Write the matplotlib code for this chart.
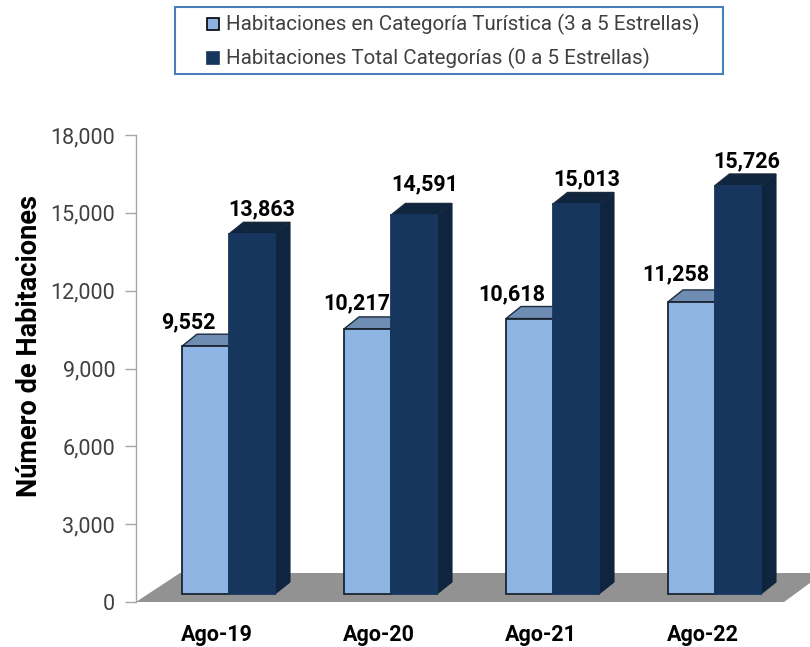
import matplotlib
matplotlib.use("Agg")
import matplotlib.pyplot as plt
from matplotlib.patches import Polygon, Rectangle

plt.rcParams["font.family"] = ["Roboto", "DejaVu Sans"]

# Data
categories = ["Ago-19", "Ago-20", "Ago-21", "Ago-22"]
turistica = [9552, 10217, 10618, 11258]
total = [13863, 14591, 15013, 15726]
yticks = [0, 3000, 6000, 9000, 12000, 15000, 18000]
legend_labels = ["Habitaciones en Categoría Turística (3 a 5 Estrellas)",
                 "Habitaciones Total Categorías (0 a 5 Estrellas)"]

# Small pixel nudges for the value labels
label_dx_light = [6, 13, 6, 8]
label_dy_light = [24, 26, 24, 28]
label_dx_dark = [34, 35, 35, 33]
label_dy_dark = [25, 31, 25, 25]

W, H = 810, 647
fig = plt.figure(figsize=(W / 100, H / 100), dpi=100)
ax = fig.add_axes([136 / W, (H - 602) / H, 648 / W, 467 / H])
ax.set_xlim(-0.5, 3.5)
ax.set_ylim(0, 18000)

# pixel to data scale
px = 1 / 162
py = 18000 / 467


def bar3d(x0, value, width, front, top, side, edge, z):
    # x0 in data units, width in px, bar sits 8 px above zero
    b = 8 * py
    v = value + b
    dx, dy = 15 * px, 12 * py
    l, r = x0, x0 + width * px
    ax.add_patch(Polygon([(r, b), (r + dx, b + dy), (r + dx, v + dy), (r, v)],
                         fc=side, ec="#10243c", lw=0.8, zorder=z, clip_on=False))
    ax.add_patch(Polygon([(l, v), (l + dx, v + dy), (r + dx, v + dy), (r, v)],
                         fc=top, ec="#1c2a3c", lw=1.0, zorder=z, clip_on=False))
    ax.add_patch(Rectangle((l, b), r - l, value, fc=front, ec=edge, lw=1.3,
                           zorder=z + 0.5, clip_on=False))


# gray floor
ax.add_patch(Polygon([(-0.5, 0), (-0.5 + 44 * px, 29 * py), (3.5 + 40 * px, 29 * py),
                      (3.5 + 40 * px, 0), (3.5, 0)],
                     fc="#929292", ec="none", zorder=1, clip_on=False))
ax.add_patch(Polygon([(3.5, 0), (3.5 + 26 * px, 19 * py), (3.5 + 40 * px, 19 * py),
                      (3.5 + 40 * px, 0)], fc="white", ec="none", zorder=1.2, clip_on=False))

for i, cat in enumerate(categories):
    bar3d(i - 35 * px, turistica[i], 47, "#8DB4E2", "#6F8DB3", "#5f7da3", "#1a2430", 2 + i)
    bar3d(i + 11.5 * px, total[i], 46.5, "#17365D", "#10263F", "#0F243E", "#17365D", 2.7 + i)
    ax.text(i - 35 * px + label_dx_light[i] * px, turistica[i] + 8 * py + label_dy_light[i] * py,
            f"{turistica[i]:,}", ha="center", va="center", fontsize=15.5, fontweight="bold",
            color="black", zorder=20, clip_on=False)
    ax.text(i + 11 * px + label_dx_dark[i] * px, total[i] + 8 * py + label_dy_dark[i] * py,
            f"{total[i]:,}", ha="center", va="center", fontsize=15.5, fontweight="bold",
            color="black", zorder=20, clip_on=False)

# axes
for s in ["top", "right", "bottom"]:
    ax.spines[s].set_visible(False)
ax.spines["left"].set_color("#a6a6a6")
ax.spines["left"].set_linewidth(1.0)
ax.patch.set_alpha(0)
ax.set_yticks(yticks)
ax.set_yticklabels([f"{v:,}" for v in yticks], fontsize=15.5, color="#404040")
ax.tick_params(axis="y", length=8, color="#a6a6a6", width=1.0, pad=7)
ax.set_xticks(range(len(categories)))
ax.set_xticklabels(categories, fontsize=15.5, fontweight="bold", color="black")
ax.tick_params(axis="x", length=0, pad=16)
ax.set_ylabel("Número de Habitaciones", fontsize=19.5, fontweight="bold", color="black",
              labelpad=5, y=0.548)

# legend drawn by hand to sit in the boxed header
fig.add_artist(Rectangle((175 / W, 1 - 74 / H), 548 / W, 67 / H, transform=fig.transFigure,
                         fc="white", ec="#4a7ebb", lw=1.5))
leg_y = [24, 58]
leg_col = ["#8DB4E2", "#17365D"]
leg_edge = ["black", "#17365D"]
for y, lab, c, e in zip(leg_y, legend_labels, leg_col, leg_edge):
    fig.add_artist(Rectangle((207 / W, 1 - (y + 6) / H), 12 / W, 12 / H, transform=fig.transFigure,
                             fc=c, ec=e, lw=1.2))
    fig.text(226 / W, 1 - y / H, lab, fontsize=14.8, color="#404040", va="center", ha="left")

fig.savefig("out.png", dpi=100)
